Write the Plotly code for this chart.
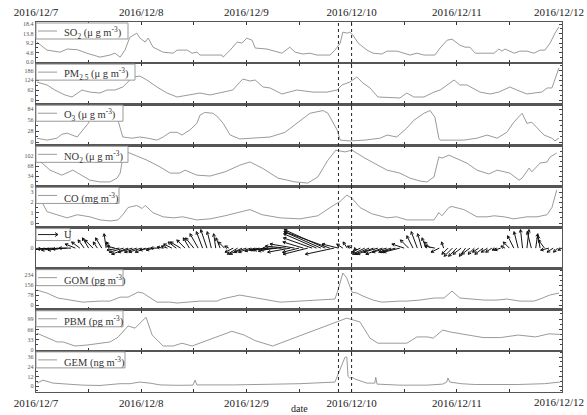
import math
import plotly.graph_objects as go

# ---------------- data (hours since 2016-12-07 00:00) ----------------
day_hours = [0, 24, 48, 72, 96, 120]
day_labels = ["2016/12/7", "2016/12/8", "2016/12/9", "2016/12/10", "2016/12/11", "2016/12/12"]
event_hours = [69.0, 72.0]

so2_hour = [0.2, 2.5, 5.5, 7.1, 9.4, 11.6, 14.6, 16.9, 18.0, 19.2,
            20.3, 21.4, 23.0, 23.7, 24.9, 25.6, 26.7, 29.0, 31.3, 32.2,
            34.5, 35.6, 36.7, 37.4, 42.4, 42.7, 44.3, 45.9, 47.0, 48.1,
            49.3, 50.0, 52.7, 55.0, 56.1, 57.9, 59.1, 60.9, 62.5, 64.1,
            67.1, 68.2, 69.4, 70.0, 71.0, 71.6, 72.3, 73.5, 75.5, 76.9,
            78.9, 80.1, 82.4, 85.3, 86.9, 88.5, 91.0, 92.2, 93.8, 94.9,
            96.7, 97.9, 99.0, 100.2, 104.5, 105.6, 106.3, 107.0, 109.1, 110.4,
            112.0, 113.6, 115.0, 116.1, 117.3, 118.4, 119.3]
so2_val = [9.7, 5.8, 4.8, 6.3, 6.0, 4.3, 2.4, 3.4, 4.3, 2.4,
           5.8, 12.0, 14.0, 11.6, 9.7, 11.6, 7.2, 4.8, 4.3, 5.8,
           5.8, 4.3, 4.8, 3.4, 3.4, 2.4, 5.8, 9.7, 9.2, 11.6,
           10.6, 6.8, 6.3, 4.8, 4.3, 7.2, 4.8, 3.9, 4.3, 3.4,
           3.4, 5.8, 9.2, 14.5, 14.0, 14.5, 13.0, 9.2, 5.8, 4.3,
           3.9, 5.3, 5.3, 3.4, 4.3, 3.4, 3.4, 6.8, 10.6, 11.1,
           8.2, 7.2, 7.2, 4.3, 4.3, 6.3, 5.3, 6.3, 4.3, 5.3,
           5.3, 4.3, 5.8, 5.8, 9.2, 14.0, 17.0]

pm25_hour = [0.2, 2.5, 4.3, 6.6, 8.2, 10.5, 12.3, 14.6, 16.2, 18.0,
             19.8, 21.0, 22.1, 23.7, 25.3, 27.6, 29.9, 32.2, 34.5, 36.7,
             37.4, 39.7, 42.0, 44.9, 46.5, 47.2, 48.8, 50.0, 51.8, 53.4,
             56.1, 59.5, 63.2, 66.4, 68.7, 69.8, 71.6, 73.2, 74.6, 76.2,
             78.0, 80.8, 83.0, 84.6, 86.2, 88.5, 90.8, 92.2, 95.4, 96.7,
             98.3, 101.3, 103.6, 105.6, 108.1, 109.7, 112.0, 113.6, 115.4, 116.6,
             117.7, 119.3]
pm25_val = [113, 95, 63, 32, 19, 63, 50, 44, 63, 63,
            82, 113, 145, 151, 126, 82, 44, 19, 32, 44,
            44, 32, 44, 63, 113, 132, 120, 126, 82, 76,
            38, 63, 50, 50, 63, 95, 113, 145, 107, 76,
            19, 13, 13, 44, 19, 19, 50, 63, 126, 95,
            95, 50, 38, 50, 82, 63, 38, 44, 50, 76,
            76, 202]

o3_hour = [0.2, 2.5, 4.8, 5.9, 7.1, 9.4, 11.9, 12.3, 14.6, 16.9,
           18.7, 19.8, 21.9, 23.7, 25.5, 27.6, 29.0, 30.6, 32.2, 33.3,
           35.1, 36.7, 37.4, 38.5, 40.4, 41.5, 42.7, 44.3, 46.5, 50.0,
           53.4, 56.8, 59.5, 62.5, 65.5, 66.6, 68.7, 69.4, 71.6, 75.0,
           78.5, 80.1, 82.3, 84.6, 86.2, 88.5, 89.9, 91.0, 91.9, 92.2,
           97.6, 100.6, 102.9, 105.2, 107.4, 109.0, 110.9, 112.0, 113.1, 114.3,
           115.9, 117.7, 118.4, 119.3]
o3_val = [10, 5, 10, 20, 23, 13, 48, 56, 81, 87,
          56, 13, 10, 13, 10, 5, 13, 25, 25, 18,
          31, 48, 69, 76, 74, 64, 48, 18, 8, 10,
          13, 25, 48, 74, 81, 74, 31, 5, 3, 5,
          10, 18, 13, 36, 56, 74, 81, 64, 10, 5,
          5, 10, 18, 10, 25, 51, 74, 48, 51, 38,
          18, 10, 3, 10]

no2_hour = [0.2, 1.4, 3.2, 5.9, 8.4, 10.5, 12.3, 14.6, 16.9, 18.5,
            19.2, 19.6, 20.5, 21.4, 23.7, 25.3, 28.3, 30.6, 32.8, 34.0,
            36.7, 39.7, 43.1, 46.5, 48.8, 51.6, 55.2, 59.1, 62.0, 64.3,
            66.6, 68.4, 70.5, 72.1, 75.0, 77.8, 80.1, 83.0, 85.3, 87.6,
            89.2, 90.8, 91.9, 92.6, 94.2, 98.3, 100.6, 103.3, 105.2, 108.1,
            110.2, 110.9, 112.5, 113.1, 115.0, 116.6, 117.3, 118.8]
no2_val = [88, 78, 54, 37, 54, 37, 20, 14, 14, 27,
           44, 78, 116, 112, 99, 88, 65, 44, 44, 54,
           37, 34, 48, 71, 82, 61, 27, 14, 10, 31,
           88, 122, 116, 122, 95, 71, 54, 44, 27, 17,
           14, 31, 99, 95, 105, 78, 54, 41, 54, 44,
           20, 27, 61, 48, 78, 82, 99, 112]

co_hour = [0.2, 1.4, 2.5, 4.8, 7.1, 9.4, 12.3, 14.6, 16.9, 18.7,
           19.8, 21.0, 22.1, 23.0, 24.2, 24.9, 26.7, 29.0, 31.3, 33.5,
           36.7, 39.7, 43.1, 46.5, 48.8, 51.6, 55.7, 60.2, 64.3, 67.1,
           69.4, 70.9, 72.1, 73.9, 76.6, 80.1, 82.3, 84.6, 90.8, 91.9,
           92.6, 94.2, 94.9, 97.6, 99.0, 100.6, 102.9, 104.5, 106.8, 109.0,
           112.0, 114.3, 116.6, 117.7, 118.8]
co_val = [3.0, 2.0, 1.1, 0.8, 0.5, 0.8, 0.6, 0.3, 0.2, 0.3,
          0.8, 1.5, 1.6, 1.7, 1.4, 1.7, 1.0, 0.6, 0.5, 0.6,
          0.3, 0.4, 0.7, 1.1, 1.3, 0.8, 0.5, 0.4, 0.7, 1.5,
          2.1, 2.7, 2.4, 1.5, 0.9, 0.5, 0.6, 0.3, 0.3, 1.0,
          0.7, 1.5, 1.6, 1.3, 1.0, 0.6, 0.6, 0.7, 0.6, 0.4,
          0.6, 0.6, 0.8, 1.5, 3.2]

# wind feather components, hourly from 12/7 00:00 to 12/12 00:00
wind_u = [-8, -9, -10, -9, -8, -8, -7, -7, -6, -5, -4, -3,
          -3, -4, -2, -3, -1, -2, -4, -6, -7, -8, -7, -6,
          -6, -5, -5, -4, -4, -3, -3, -4, -4, -5, -4, -3,
          -4, -4, -3, -3, -2, -1, -2, -3, -2, -4, -5, -6,
          -6, -6, -5, -5, -6, -7, -7, -8, -9, -10, -11, -12,
          -8, -10, -12, -14, -16, -18, -20, -22, -14, -8, -3, -2,
          -2, -1, -4, -6, -7, -8, -7, -8, -7, -6, -7, -8,
          -6, -4, -3, -3, -2, -2, -3, -5, -4, -1, -3, -4,
          -4, -4, -3, -4, -3, -3, -4, -3, -3, -2, -3, -2,
          -3, -3, -2, -1, 1, -2, 1, -1, -3, -4, -3, -2, -2]
wind_v = [-1, -1, -1.5, -1, -0.5, -1, -1, -0.5, 0, 2, 3, 4,
          5, 4, 3, 5, 7, 3, 1, -1, -2, -3, -2, -2,
          -2, -2, -1, -1, 0, 0.5, 1, 2, 3, 3, 4, 5,
          5, 7, 8, 9, 8, 7, 5, 3, 1, -2, -3, -3,
          -2, -2, -1.5, -1, -1, -1, -1.5, -1, 0, 1, -2, 2,
          -2, 3, -3, 5, 7, 8, 9, 8, -3, 2, 2, 3,
          1, -1, -2, -3, -3, -3, -2, -3, -2, -2, -2, -2,
          2, 4, 6, 8, 7, 5, 3, 1, -2, 3, -3, -4,
          -4, -3, -4, -3, -3, -2, -3, -2, -2, -1, -1, 1,
          3, 6, 8, 9, 9, 8, 7, 6, 4, -1, -2, -2, -1]

gom_hour = [0.2, 2.5, 5.0, 8.4, 10.7, 14.6, 16.9, 19.2, 21.0, 23.3,
            24.4, 27.6, 30.6, 32.2, 34.4, 37.4, 41.3, 42.4, 46.5, 50.4,
            55.7, 60.2, 65.5, 68.2, 68.9, 70.0, 70.9, 72.1, 73.2, 74.6,
            76.9, 78.9, 83.0, 84.6, 87.6, 90.8, 93.1, 94.9, 96.7, 99.9,
            102.2, 105.2, 107.4, 110.4, 113.6, 115.0, 117.2, 119.3]
gom_val = [117, 94, 55, 39, 23, 31, 31, 62, 62, 101,
           94, 23, 23, 16, 23, 31, 31, 47, 78, 55,
           23, 31, 39, 47, 117, 250, 211, 101, 94, 70,
           39, 23, 31, 31, 39, 55, 55, 109, 55, 47,
           39, 39, 47, 31, 31, 47, 78, 94]

pbm_hour = [0.2, 2.5, 4.8, 6.2, 8.9, 11.6, 14.6, 16.9, 18.7, 21.0,
            22.6, 25.1, 26.5, 29.0, 31.3, 33.3, 35.6, 37.4, 40.8, 44.7,
            47.5, 50.0, 54.0, 68.7, 70.9, 73.9, 76.2, 78.0, 84.6, 86.9,
            89.4, 90.6, 92.8, 94.4, 98.0, 102.0, 106.0, 110.0, 114.0, 117.0,
            119.5]
pbm_val = [54, 41, 26, 26, 13, 16, 22, 26, 41, 77,
           70, 105, 48, 13, 13, 22, 13, 22, 38, 60,
           48, 30, 13, 90, 102, 90, 38, 22, 22, 42,
           42, 38, 64, 58, 50, 40, 40, 48, 42, 52,
           50]

gem_hour = [0.2, 1.6, 3.9, 7.1, 10.7, 14.6, 19.2, 21.4, 23.7, 26.0,
            28.3, 32.2, 35.8, 36.3, 36.7, 45.0, 55.0, 60.2, 68.2, 69.4,
            70.5, 70.9, 71.2, 71.6, 72.1, 72.8, 75.5, 77.3, 77.5, 77.8,
            83.0, 89.2, 92.8, 93.7, 94.0, 94.4, 97.0, 100.0, 110.0, 116.0,
            119.5]
gem_val = [3.7, 7.4, 3.7, 2.5, 1.2, 0.8, 3.0, 3.0, 5.0, 3.7,
           1.5, 1.0, 1.2, 7.4, 1.5, 1.5, 2.0, 3.0, 5.0, 20.0,
           36.0, 36.0, 12.0, 10.0, 11.0, 8.7, 3.7, 3.7, 11.0, 2.5,
           1.2, 1.2, 2.5, 5.0, 10.0, 5.0, 3.0, 2.0, 2.0, 3.0,
           5.0]

# ---------------- layout geometry ----------------
W, H = 587, 415
ML, MR, MT, MB = 36, 25, 22, 23
PW = W - ML - MR
PH = H - MT - MB
NP = 9
PANEL_H = PH / NP
X_RANGE = [0, 120]
LINE_GRAY = "#9a9a9a"
SERIF = "Liberation Serif, Times New Roman, serif"


def pxx(px):
    return (px - ML) / PW


def pxy(py):
    return (H - MB - py) / PH


def fmt1(v):
    return f"{v:.1f}"


panels = [
    dict(x=so2_hour, y=so2_val, rng=[-0.5, 19.4], tv=[0, 4.6, 9.2, 13.8, 18.4],
         tt=[fmt1(v) for v in [0, 4.6, 9.2, 13.8, 18.4]], mdt=2.3,
         label="SO<sub>2</sub> (μ g m<sup>-3</sup>)", box_r=128),
    dict(x=pm25_hour, y=pm25_val, rng=[-26.5, 232.6], tv=[0, 62, 124, 186],
         tt=None, mdt=31, label="PM<sub>2.5</sub> (μ g m<sup>-3</sup>)", box_r=135),
    dict(x=o3_hour, y=o3_val, rng=[-8.4, 97.2], tv=[0, 28, 56, 84],
         tt=None, mdt=14, label="O<sub>3</sub> (μ g m<sup>-3</sup>)", box_r=123),
    dict(x=no2_hour, y=no2_val, rng=[-1.4, 138.4], tv=[0, 34, 68, 102],
         tt=None, mdt=17, label="NO<sub>2</sub> (μ g m<sup>-3</sup>)", box_r=128),
    dict(x=co_hour, y=co_val, rng=[-0.44, 3.54], tv=[0, 1, 2, 3],
         tt=None, mdt=0.5, label="CO (mg m<sup>-3</sup>)", box_r=119),
    dict(x=None, y=None, rng=[-10, 10], tv=[0], tt=None, mdt=None,
         label="U", box_r=70),
    dict(x=gom_hour, y=gom_val, rng=[-36.7, 284], tv=[0, 78, 156, 234],
         tt=None, mdt=39, label="GOM (pg m<sup>-3</sup>)", box_r=123),
    dict(x=pbm_hour, y=pbm_val, rng=[-2.6, 128.7], tv=[0, 33, 66, 99],
         tt=None, mdt=16.5, label="PBM (pg m<sup>-3</sup>)", box_r=123),
    dict(x=gem_hour, y=gem_val, rng=[-7.3, 43.7], tv=[0, 12, 24, 36],
         tt=None, mdt=6, label="GEM (ng m<sup>-3</sup>)", box_r=125),
]

fig = go.Figure()
shapes = []
annotations = []
layout = {}

# the last day label sits at the right edge: draw it as a right-aligned text
axis_ticktext = day_labels[:-1] + [""]

for i, p in enumerate(panels):
    n = i + 1
    xa = "x" if n == 1 else f"x{n}"
    ya = "y" if n == 1 else f"y{n}"
    top = 1 - i / NP
    bot = 1 - (i + 1) / NP

    if p["x"] is not None:
        fig.add_trace(go.Scatter(x=p["x"], y=p["y"], mode="lines",
                                 line=dict(color=LINE_GRAY, width=1),
                                 xaxis=xa, yaxis=ya, showlegend=False,
                                 hoverinfo="skip"))

    show_x_labels = n == 1 or n == NP
    layout["xaxis" if n == 1 else f"xaxis{n}"] = dict(
        domain=[0, 1], range=X_RANGE, anchor=ya, automargin=False,
        tickmode="array", tickvals=day_hours, ticktext=axis_ticktext,
        showticklabels=show_x_labels, side="top" if n == 1 else "bottom",
        ticklabeloverflow="allow",
        ticks="inside", ticklen=3, tickcolor="#333", tickwidth=1,
        minor=dict(tickvals=[12, 36, 60, 84, 108], ticks="inside", ticklen=3,
                   tickcolor="#333"),
        showline=True, linecolor="#555", linewidth=1.3, mirror="ticks",
        showgrid=False, zeroline=False,
        tickfont=dict(family=SERIF, size=11, color="#222"),
    )
    yax = dict(
        domain=[bot, top], range=p["rng"], anchor=xa, automargin=False,
        tickmode="array", tickvals=p["tv"],
        ticks="inside", ticklen=3, tickcolor="#444", tickwidth=1,
        showline=True, linecolor="#555", linewidth=1.3, mirror="ticks",
        showgrid=False, zeroline=False,
        tickfont=dict(family=SERIF, size=6, color="#555"),
    )
    if p["tt"] is not None:
        yax["ticktext"] = p["tt"]
    if p["mdt"] is not None:
        yax["minor"] = dict(dtick=p["mdt"], tick0=0, ticks="inside", ticklen=2,
                            tickcolor="#444")
    layout["yaxis" if n == 1 else f"yaxis{n}"] = yax

    # legend-like label box in the upper-left corner of each panel
    ptop = MT + i * PANEL_H
    bh = 13 if p["x"] is None else 17
    b_top, b_bot = ptop + 1, ptop + bh
    ymid = (b_top + b_bot) / 2
    shapes.append(dict(type="rect", xref="paper", yref="paper",
                       x0=pxx(ML), x1=pxx(p["box_r"]), y0=pxy(b_bot), y1=pxy(b_top),
                       fillcolor="white", line=dict(color="#999", width=1),
                       layer="above"))
    if p["x"] is not None:
        shapes.append(dict(type="line", xref="paper", yref="paper",
                           x0=pxx(38), x1=pxx(57), y0=pxy(ymid), y1=pxy(ymid),
                           line=dict(color=LINE_GRAY, width=1), layer="above"))
        tx, ty, fs = 62, ymid + 2.2, 10.5
    else:
        shapes.append(dict(type="line", xref="paper", yref="paper",
                           x0=pxx(38), x1=pxx(58), y0=pxy(ymid), y1=pxy(ymid),
                           line=dict(color="#222", width=1), layer="above"))
        for dy in (-2, 2):
            shapes.append(dict(type="line", xref="paper", yref="paper",
                               x0=pxx(55), x1=pxx(58), y0=pxy(ymid + dy), y1=pxy(ymid),
                               line=dict(color="#222", width=1), layer="above"))
        tx, ty, fs = 62, ymid, 10.5
    annotations.append(dict(text=p["label"], xref="paper", yref="paper",
                            x=pxx(tx), y=pxy(ty), xanchor="left", yanchor="middle",
                            showarrow=False,
                            font=dict(family=SERIF, size=fs, color="#333")))

# ---------------- wind feather arrows (panel 6) ----------------
px_per_h = PW / (X_RANGE[1] - X_RANGE[0])
wr = panels[5]["rng"]
px_per_v = PANEL_H / (wr[1] - wr[0])
scale_px = px_per_v  # isotropic: 1 wind unit -> same pixels in x and y
ax_x, ax_y = [], []
head_len, head_ang = 3.2, math.radians(28)
for h, u, v in zip(range(len(wind_u)), wind_u, wind_v):
    dxp, dyp = u * scale_px, v * scale_px
    L = math.hypot(dxp, dyp)
    if L < 0.5:
        continue
    tip_h = h + dxp / px_per_h
    tip_v = dyp / px_per_v
    ax_x += [h, tip_h, None]
    ax_y += [0, tip_v, None]
    ux, uy = dxp / L, dyp / L
    for s in (1, -1):
        c, sn = math.cos(s * head_ang), math.sin(s * head_ang)
        bx = -(ux * c - uy * sn) * head_len
        by = -(ux * sn + uy * c) * head_len
        ax_x += [tip_h, tip_h + bx / px_per_h, None]
        ax_y += [tip_v, tip_v + by / px_per_v, None]
fig.add_trace(go.Scatter(x=ax_x, y=ax_y, mode="lines",
                         line=dict(color="#111", width=1),
                         xaxis="x6", yaxis="y6", showlegend=False, hoverinfo="skip"))

# dotted event lines through all panels
for eh in event_hours:
    shapes.append(dict(type="line", xref="x", yref="paper", x0=eh, x1=eh, y0=0, y1=1,
                       line=dict(color="#222", width=1, dash="dot"), layer="above"))

# right-most day label (top and bottom), kept inside the page
for yy in (pxy(12.5), pxy(401.5)):
    annotations.append(dict(text=day_labels[-1], xref="paper", yref="paper",
                            x=pxx(W - 1), y=yy, xanchor="right", yanchor="middle",
                            showarrow=False,
                            font=dict(family=SERIF, size=11, color="#222")))

annotations.append(dict(text="date", xref="paper", yref="paper", x=0.5, y=pxy(408.5),
                        xanchor="center", yanchor="middle", showarrow=False,
                        font=dict(family=SERIF, size=10, color="#222")))

fig.update_layout(
    width=W, height=H,
    margin=dict(l=ML, r=MR, t=MT, b=MB, autoexpand=False),
    paper_bgcolor="white", plot_bgcolor="white",
    shapes=shapes, annotations=annotations,
    showlegend=False,
)
fig.update_layout(**layout)

fig.write_html("out.html",
               config={"displayModeBar": False, "staticPlot": True},
               post_script="document.body.style.margin='0';document.body.style.padding='0';")
